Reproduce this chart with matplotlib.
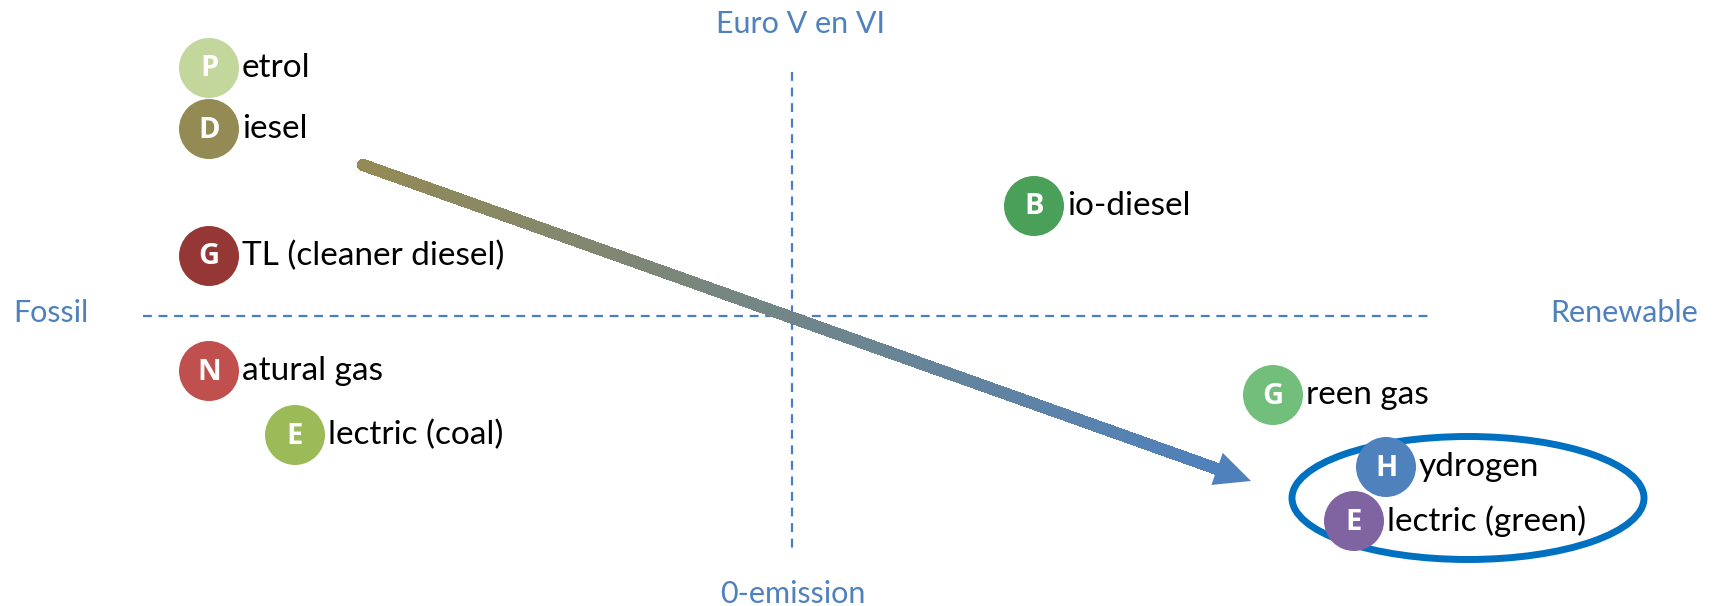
import numpy as np
import matplotlib.pyplot as plt
from matplotlib.collections import LineCollection
from matplotlib.patches import Circle, Ellipse, Polygon
from matplotlib.colors import to_rgb

# Fuel positions on the map (x: fossil -> renewable, y: emission, down = cleaner)
initials = ['P', 'D', 'G', 'N', 'E', 'B', 'G', 'H', 'E']
rest = ['etrol', 'iesel', 'TL (cleaner diesel)', 'atural gas', 'lectric (coal)',
        'io-diesel', 'reen gas', 'ydrogen', 'lectric (green)']
x_pos = [209, 209, 209, 209, 295, 1034, 1273, 1386, 1354]
y_pos = [68, 129, 256, 371, 435, 206, 395, 467, 521]
colors = ['#C3D69B', '#948A54', '#953735', '#C0504D', '#9BBB59',
          '#4AA058', '#72BF7B', '#4F81BD', '#8064A2']

# quadrant lines and labels
center = (792, 316)
axis_labels = ['Euro V en VI', '0-emission', 'Fossil', 'Renewable']
label_pos = [(800, 24), (793, 594), (51, 313), (1624, 313)]

# transition arrow
arrow_start = (363, 165)
arrow_end = (1251, 481)

plt.rcParams['font.family'] = ['Lato', 'DejaVu Sans']

fig = plt.figure(figsize=(17.17, 6.06), dpi=100)
ax = fig.add_axes([0, 0, 1, 1])
ax.set_xlim(0, 1717)
ax.set_ylim(606, 0)
ax.set_aspect('equal')
ax.axis('off')

line_col = '#4A7EC4'
ax.plot([center[0], center[0]], [72, 548], color=line_col, lw=1.6, ls=(0, (4, 3)))
ax.plot([143, 1433], [center[1], center[1]], color=line_col, lw=1.6, ls=(0, (4, 3)))

for txt, (lx, ly) in zip(axis_labels, label_pos):
    ax.text(lx, ly, txt, color='#4F81BD', fontsize=22, ha='center', va='center')

# gradient arrow shaft
c0 = np.array(to_rgb('#948A54'))
c1 = np.array(to_rgb('#4F81BD'))
n = 200
sx, sy = arrow_start
ex, ey = arrow_end
d = np.array([ex - sx, ey - sy], dtype=float)
u = d / np.hypot(*d)
head_len = 36
shaft_end = np.array([ex, ey]) - u * head_len
t = np.linspace(0, 1, n + 1)
px = sx + (shaft_end[0] - sx) * t
py = sy + (shaft_end[1] - sy) * t
segs = [[(px[i], py[i]), (px[i + 1], py[i + 1])] for i in range(n)]
cols = [c0 + (c1 - c0) * (i / n) for i in range(n)]
ax.add_collection(LineCollection(segs, colors=cols, linewidths=8,
                                 capstyle='round', antialiased=False))
ax.add_patch(Circle((sx, sy), 5.5, color=c0, lw=0))
perp = np.array([-u[1], u[0]])
hw = 17
base = np.array([ex, ey]) - u * head_len
ax.add_patch(Polygon([(ex, ey), tuple(base + perp * hw), tuple(base - perp * hw)],
                     closed=True, color=c1, lw=0))

# highlight ellipse
ax.add_patch(Ellipse((1468, 498), 352, 123, fill=False, edgecolor='#0070C0', lw=5))

for ini, txt, x, y, c in zip(initials, rest, x_pos, y_pos, colors):
    ax.add_patch(Circle((x, y), 30, color=c, lw=0, zorder=3))
    ax.text(x, y + 1, ini, color='white', fontsize=21, fontweight='bold',
            family=['Open Sans', 'DejaVu Sans'],
            ha='center', va='center', zorder=4)
    ax.text(x + 33, y, txt, color='black', fontsize=24, ha='left', va='center', zorder=4)

fig.savefig('out.png', dpi=100)
